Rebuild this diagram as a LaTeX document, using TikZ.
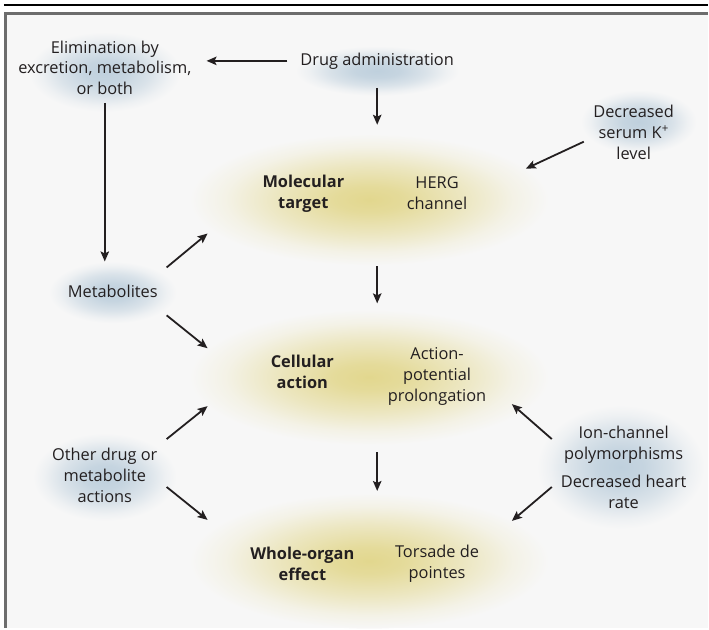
\documentclass[tikz,border=0pt]{standalone}
\usepackage{fontspec}
\setmainfont{Open Sans}
\usetikzlibrary{calc,arrows.meta,shapes.geometric}

\definecolor{bgc}{HTML}{F7F7F7}
\definecolor{framec}{HTML}{6D6D6D}
\definecolor{inkc}{HTML}{231F20}
\definecolor{yelc}{HTML}{E2D78E}
\definecolor{bluc}{HTML}{BFD0DD}

\pgfdeclareradialshading{yglowshade}{\pgfpointorigin}{color(0bp)=(yelc); color(5bp)=(yelc!88!bgc); color(13bp)=(yelc!52!bgc); color(20bp)=(yelc!16!bgc); color(25bp)=(bgc); color(50bp)=(bgc)}
\pgfdeclareradialshading{bglowshade}{\pgfpointorigin}{color(0bp)=(bluc); color(7bp)=(bluc!88!bgc); color(15bp)=(bluc!52!bgc); color(21bp)=(bluc!16!bgc); color(25bp)=(bgc); color(50bp)=(bgc)}

\tikzset{
  txt/.style={text=inkc, align=center, inner sep=0pt, font=\fontsize{16.4}{21}\selectfont},
  hd/.style={txt, font=\fontsize{16.4}{21}\selectfont\bfseries},
  yglow/.style={shading=yglowshade},
  bglow/.style={shading=bglowshade},
  arr/.style={-{Stealth[length=10pt,width=8.5pt,inset=2pt]}, line width=1.8pt, draw=inkc},
}

\begin{document}
\begin{tikzpicture}[x=1pt,y=-1pt]
  % frame
  \fill[white] (0,0) rectangle (709,629);
  \fill[bgc] (5,13) rectangle (709,629);
  \draw[black, line width=1.8] (4,5) -- (709,5);
  \draw[framec, line width=3] (709,13.5) -- (5.5,13.5) -- (5.5,629);
  \useasboundingbox (0,0) rectangle (709,629);

  % glows
  \path[bglow] (105,72) ellipse [x radius=76, y radius=40];
  \path[bglow] (378,71) ellipse [x radius=82, y radius=25];
  \path[bglow] (640,122) ellipse [x radius=58, y radius=32];
  \path[bglow] (113,293) ellipse [x radius=64, y radius=31];
  \path[bglow] (105,478) ellipse [x radius=72, y radius=44];
  \path[bglow] (622,468) ellipse [x radius=84, y radius=62];
  \path[yglow] (370,200) ellipse [x radius=180, y radius=66];
  \path[yglow] (370,378) ellipse [x radius=180, y radius=68];
  \path[yglow] (370,562) ellipse [x radius=180, y radius=68];

  % texts
  \node[txt] (elim) at (105,68) {Elimination by\\excretion, metabolism,\\or both};
  \node[txt] (drug) at (378,61) {Drug administration};
  \node[txt] (serum) at (635,133) {Decreased\\serum K\textsuperscript{+}\\level};
  \node[txt] (meta) at (113,292) {Metabolites};
  \node[txt] (other) at (105,476) {Other drug or\\metabolite\\actions};
  \node[txt] (ion) at (625,446) {Ion-channel\\polymorphisms};
  \node[txt] (rate) at (625,493) {Decreased heart\\rate};
  \node[hd] (molt) at (304,194) {Molecular\\target};
  \node[txt] (herg) at (438,194) {HERG\\channel};
  \node[hd] (cellt) at (303,373) {Cellular\\action};
  \node[txt] (apl) at (438,377) {Action-\\potential\\prolongation};
  \node[hd] (wholet) at (303,565) {Whole-organ\\effect};
  \node[txt] (tdp) at (438,565) {Torsade de\\pointes};

  % arrows
  \draw[arr] ([shift={(-90,0)}]drug.center) -- ([shift={(102,-7)}]elim.center);
  \draw[arr] ([shift={(0,27)}]drug.center) -- ([shift={(74,-69)}]molt.center);
  \draw[arr] ([shift={(0,35)}]elim.center) -- ([shift={(-8,-30)}]meta.center);
  \draw[arr] ([shift={(-50,9)}]serum.center) -- ([shift={(223,-25)}]molt.center);
  \draw[arr] ([shift={(54,-24)}]meta.center) -- ([shift={(-96,40)}]molt.center);
  \draw[arr] ([shift={(54,24)}]meta.center) -- ([shift={(-95,-24)}]cellt.center);
  \draw[arr] ([shift={(74,73)}]molt.center) -- ([shift={(75,-69)}]cellt.center);
  \draw[arr] ([shift={(62,-36)}]other.center) -- ([shift={(-95,34)}]cellt.center);
  \draw[arr] ([shift={(62,12)}]other.center) -- ([shift={(-95,-44)}]wholet.center);
  \draw[arr] ([shift={(-72,-6)}]ion.center) -- ([shift={(75,28)}]apl.center);
  \draw[arr] ([shift={(-72,-5)}]rate.center) -- ([shift={(75,-43)}]tdp.center);
  \draw[arr] ([shift={(75,80)}]cellt.center) -- ([shift={(75,-73)}]wholet.center);
\end{tikzpicture}
\end{document}
